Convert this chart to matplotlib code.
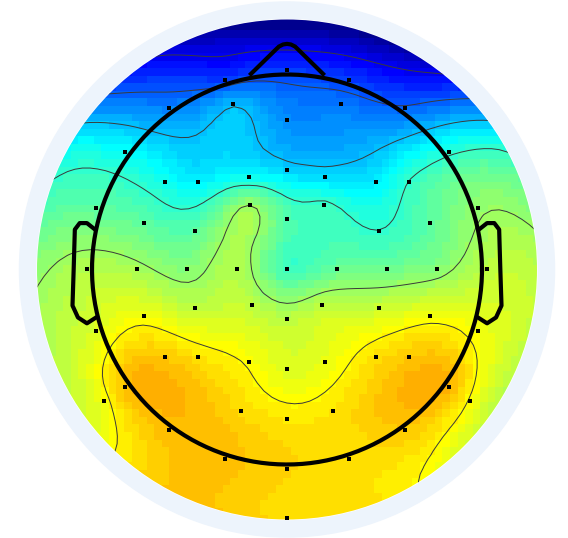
import matplotlib
matplotlib.use("Agg")
import matplotlib.pyplot as plt
import numpy as np
from matplotlib.patches import Circle
from matplotlib.colors import ListedColormap

# electrode positions (head radius = 1, nose up) and map values
elec_x = [0.0, -0.317, 0.317, -0.277, 0.277, -0.605, 0.605, 0.0,
          -0.832, 0.832, 0.0,
          -0.624, -0.454, -0.197, 0.197, 0.454, 0.624,
          -0.978, 0.978, -0.192, 0.192, 0.0,
          -0.734, 0.734, -0.473, 0.473,
          -1.028, -0.771, -0.514, -0.257, 0.0, 0.257, 0.514, 0.771, 1.028,
          -0.473, -0.181, 0.181, 0.473,
          -0.734, 0.734, 0.0, -0.978, 0.978,
          -0.624, -0.454, -0.197, 0.197, 0.454, 0.624,
          0.0, -0.832, 0.832, -0.937, 0.937,
          -0.238, 0.238, 0.0, -0.605, 0.605,
          -0.317, 0.317, 0.0, 0.0]
elec_y = [1.023, 0.974, 0.974, 0.851, 0.851, 0.826, 0.826, 0.765,
          0.602, 0.602, 0.511,
          0.451, 0.451, 0.472, 0.472, 0.451, 0.451,
          0.316, 0.316, 0.330, 0.330, 0.258,
          0.237, 0.237, 0.196, 0.196,
          0.0, 0.0, 0.0, 0.0, 0.0, 0.0, 0.0, 0.0, 0.0,
          -0.196, -0.181, -0.181, -0.196,
          -0.237, -0.237, -0.256, -0.316, -0.316,
          -0.449, -0.449, -0.472, -0.472, -0.449, -0.449,
          -0.511, -0.602, -0.602, -0.675, -0.675,
          -0.728, -0.728, -0.765, -0.825, -0.825,
          -0.972, -0.972, -1.021, -1.275]
values = [0.21, 0.21, 0.21, 0.33, 0.27, 0.28, 0.25, 0.29,
          0.40, 0.43, 0.355,
          0.41, 0.38, 0.40, 0.36, 0.38, 0.44,
          0.48, 0.53, 0.54, 0.45, 0.47,
          0.48, 0.48, 0.48, 0.44,
          0.56, 0.55, 0.52, 0.56, 0.45, 0.49, 0.50, 0.52, 0.57,
          0.57, 0.57, 0.57, 0.58,
          0.62, 0.62, 0.57, 0.60, 0.62,
          0.68, 0.655, 0.63, 0.61, 0.655, 0.68,
          0.60, 0.69, 0.695, 0.62, 0.63,
          0.665, 0.655, 0.65, 0.69, 0.68,
          0.69, 0.655, 0.67, 0.66]

# map values read along the rim of the plotted disk (angle in degrees, 0 = right)
rim_angle = [90, 75, 60, 45, 30, 15, 0, -15, -30, -45, -60, -75,
             -105, -120, -135, -150, -165, 180, 165, 150, 135, 120, 105]
rim_values = [0.04, 0.06, 0.10, 0.23, 0.43, 0.52, 0.57, 0.58, 0.57, 0.60, 0.64, 0.66,
              0.68, 0.68, 0.63, 0.58, 0.56, 0.53, 0.47, 0.40, 0.25, 0.15, 0.08]

contour_levels = [0.145, 0.243, 0.336, 0.439, 0.537, 0.635]
clim = (0.05, 0.99)
rmax = 1.282
n = 67


def matlab_jet(m=64):
    k = int(np.ceil(m / 4))
    u = np.concatenate([np.arange(1, k + 1) / k, np.ones(k - 1), np.arange(k, 0, -1) / k])
    g = int(np.ceil(k / 2)) - (1 if m % 4 == 1 else 0) + np.arange(1, len(u) + 1)
    r = g + k
    b = g - k
    cols = np.zeros((m, 3))
    for ch, idx in ((0, r), (1, g), (2, b)):
        ok = (idx >= 1) & (idx <= m)
        cols[idx[ok] - 1, ch] = u[ok]
    return ListedColormap(cols)


ra = np.radians(rim_angle)
px = np.concatenate([elec_x, 1.26 * np.cos(ra)])
py = np.concatenate([elec_y, 1.26 * np.sin(ra)])
pv = np.concatenate([values, rim_values])


# biharmonic spline (v4) interpolation
def green(d):
    g = np.zeros_like(d)
    m = d > 0
    g[m] = d[m] ** 2 * (np.log(d[m]) - 1)
    return g


d = np.hypot(px[:, None] - px[None, :], py[:, None] - py[None, :])
w = np.linalg.solve(green(d), pv)

xi = np.linspace(-rmax, rmax, n)
gx, gy = np.meshgrid(xi, xi)
dg = np.hypot(gx[..., None] - px, gy[..., None] - py)
zi = green(dg) @ w
zi[np.hypot(gx, gy) > rmax * 1.02] = np.nan

fig = plt.figure(figsize=(5.68, 5.38), dpi=100)
ax = fig.add_axes([0, 0, 1, 1])
ax.set_xlim(-287 / 195, 281 / 195)
ax.set_ylim(-268.5 / 195, 269.5 / 195)
ax.axis('off')

ax.add_patch(Circle((0, 0), 1.372, color='#edf4fc', zorder=0))
ax.add_patch(Circle((0, 0), rmax, color='white', zorder=0.5))

h = xi[1] - xi[0]
im = ax.imshow(zi, origin='lower', cmap=matlab_jet(), vmin=clim[0], vmax=clim[1],
               extent=[-rmax - h / 2, rmax + h / 2, -rmax - h / 2, rmax + h / 2],
               interpolation='nearest', zorder=1)
im.set_clip_path(Circle((0, 0), rmax, transform=ax.transData))

cs = ax.contour(gx, gy, zi, levels=contour_levels, colors='#3a3a3a', linewidths=0.7, zorder=2)
cs.set_clip_path(Circle((0, 0), rmax, transform=ax.transData))

# head outline, nose and ears
t = np.linspace(0, 2 * np.pi, 300)
ax.plot(np.cos(t), np.sin(t), color='black', lw=3, zorder=4)
nose_x = [-0.185, -0.042, -0.02, 0.0, 0.02, 0.042, 0.185]
nose_y = [1.003, 1.143, 1.154, 1.157, 1.154, 1.143, 1.003]
ax.plot(nose_x, nose_y, color='black', lw=3, zorder=4, solid_joinstyle='round')
ear_x = [-0.992, -1.026, -1.063, -1.088, -1.094, -1.100, -1.072, -1.026, -0.979]
ear_y = [0.211, 0.238, 0.238, 0.205, 0.0, -0.185, -0.246, -0.276, -0.246]
ax.plot(ear_x, ear_y, color='black', lw=3, zorder=4, solid_joinstyle='round')
ax.plot(-np.array(ear_x), ear_y, color='black', lw=3, zorder=4, solid_joinstyle='round')

ax.plot(elec_x, elec_y, 's', color='black', ms=2.6, zorder=5, mew=0)

fig.savefig('out.png', dpi=100)
